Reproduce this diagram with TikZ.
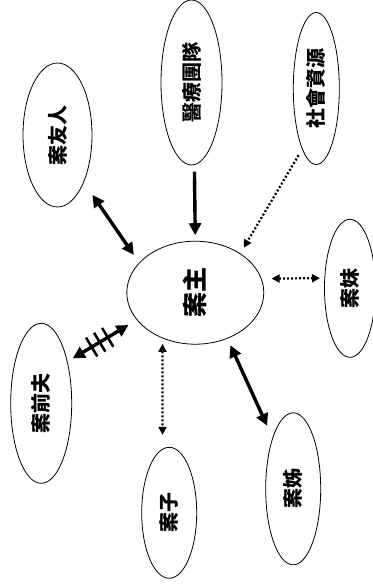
\documentclass[tikz,border=0pt]{standalone}
\usepackage{fontspec}
\usepackage{graphicx}
\usepackage{tikz}
\usetikzlibrary{shapes.geometric, arrows.meta, calc}
\newfontfamily\cjk{Noto Sans CJK TC}
\newcommand{\uptext}[1]{\rotatebox{90}{#1}}

\begin{document}
\begin{tikzpicture}[x=1pt, y=-1pt, font=\cjk\bfseries\fontsize{20}{20}\selectfont,
    bubble/.style={ellipse, draw, line width=0.8pt, inner sep=0pt, outer sep=0pt},
    solidlink/.style={line width=3.4pt, >={Triangle[length=12pt,width=12pt]}},
    dotlink/.style={line width=2.2pt, dash pattern=on 2pt off 2pt, >={Triangle[length=8pt,width=8pt]}}]
  \useasboundingbox (0,0) rectangle (372,586);

  % people and services round the client
  \node[bubble, minimum width=137pt, minimum height=103pt, font=\cjk\bfseries\fontsize{25}{25}\selectfont]
    (client) at (195.3,292.7) {\uptext{案主}};
  \node[bubble, minimum width=69pt, minimum height=144pt] (friend) at (57.5,135) {\uptext{案友人}};
  \node[bubble, minimum width=61pt, minimum height=165pt] (med) at (191.5,82.5) {\uptext{醫療團隊}};
  \node[bubble, minimum width=46pt, minimum height=152pt] (social) at (316.3,88.5) {\uptext{社會資源}};
  \node[bubble, minimum width=51pt, minimum height=138pt] (sisY) at (350,288.3) {\uptext{案妹}};
  \node[bubble, minimum width=61pt, minimum height=160pt] (exh) at (41.2,403.3) {\uptext{案前夫}};
  \node[bubble, minimum width=55pt, minimum height=131pt] (son) at (169.2,512.8) {\uptext{案子}};
  \node[bubble, minimum width=55pt, minimum height=152pt] (sisE) at (293.2,488.8) {\uptext{案姊}};

  % links
  \draw[solidlink, <->, shorten <=15.6pt, shorten >=9.8pt] (friend.-61) -- (client.152);
  \draw[solidlink, ->, shorten <=7pt, shorten >=6pt] (med.-88) -- (client.north);
  \draw[dotlink, ->, shorten <=7.3pt, shorten >=7pt] (social.257.6) -- (client.41.6);
  \draw[dotlink, <->, shorten <=10.4pt, shorten >=4.8pt] (client.12.3) -- (sisY.158.4);
  \draw[solidlink, <->, shorten <=6.4pt, shorten >=10pt] (exh.58) -- (client.205);
  \foreach \f in {0.35,0.465,0.58}
    \draw[line width=2.5pt] ($(exh.58)!\f!(client.205)!11pt!90:(client.205)$)
      -- ($(exh.58)!\f!(client.205)!11pt!-90:(client.205)$);
  \draw[dotlink, <->, shorten <=6pt, shorten >=14.4pt] (client.234) -- (son.96.2);
  \draw[solidlink, <->, shorten <=7.75pt, shorten >=13.6pt] (client.-55.5) -- (sisE.112.8);
\end{tikzpicture}
\end{document}
